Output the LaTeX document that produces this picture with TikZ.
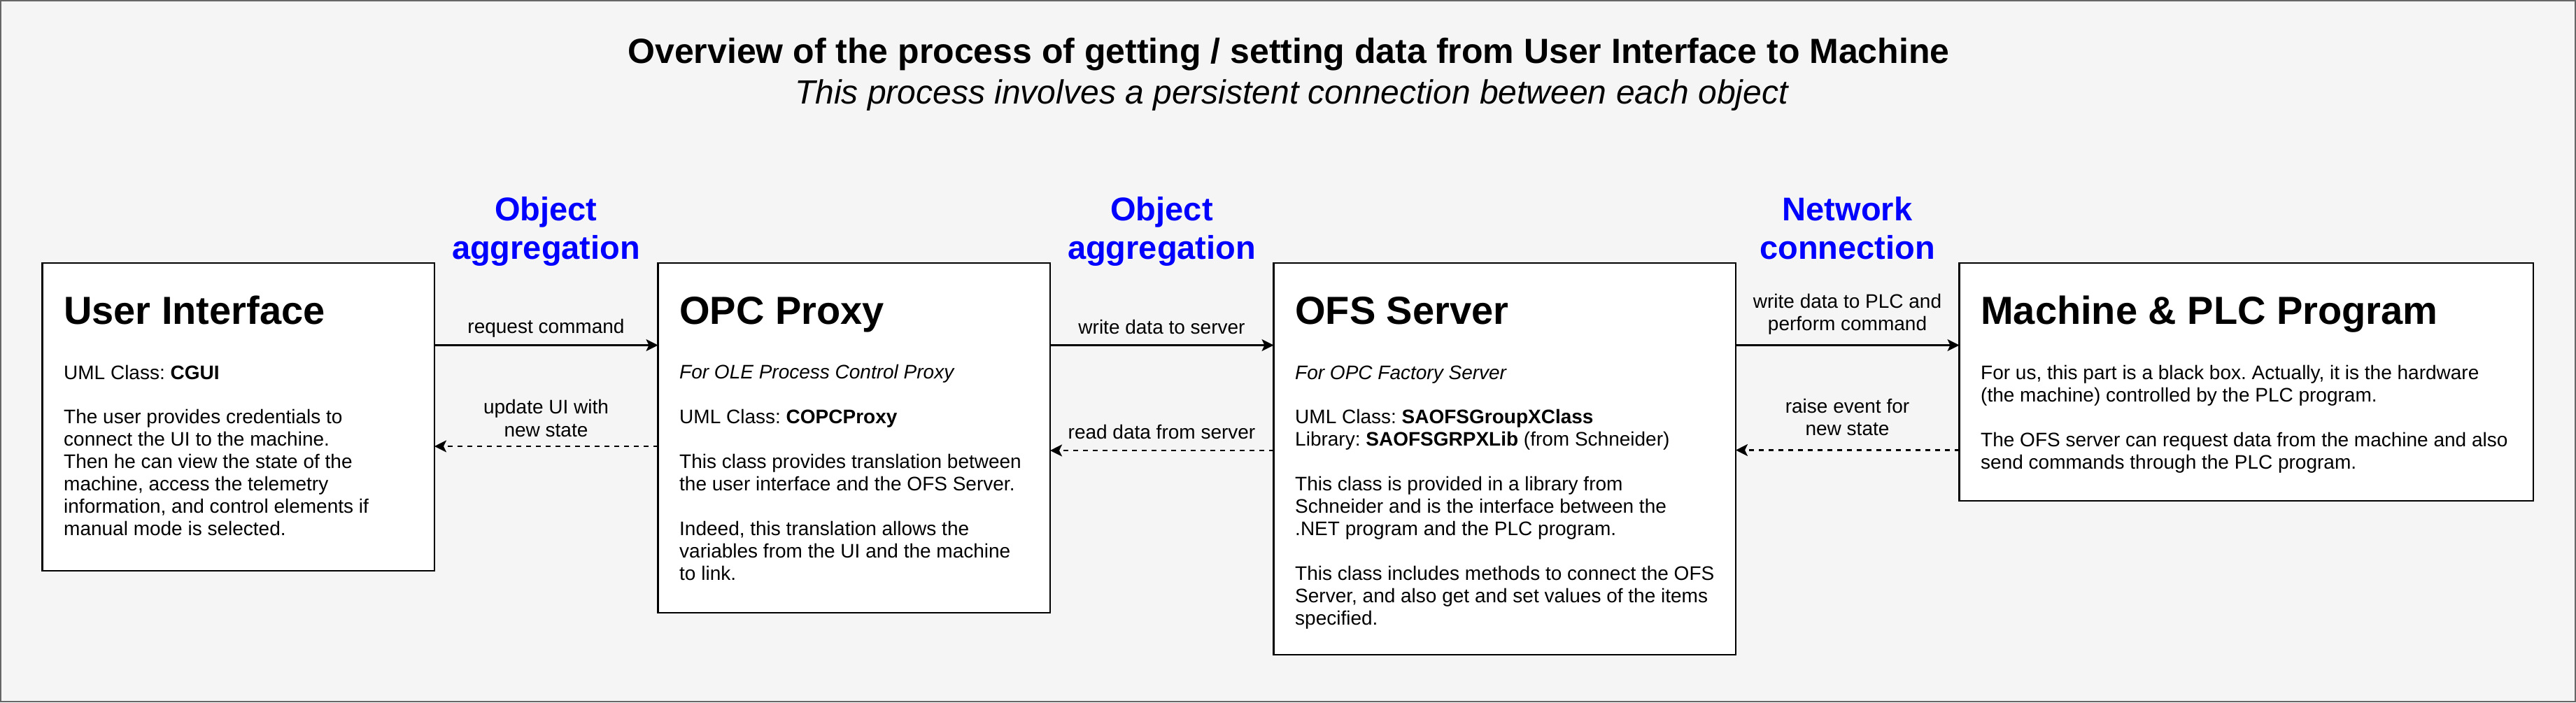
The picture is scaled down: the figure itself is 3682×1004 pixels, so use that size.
\documentclass[tikz,border=0pt]{standalone}
\usepackage{fontspec}
\setmainfont{Liberation Sans}
\usetikzlibrary{arrows.meta}
\definecolor{bgc}{HTML}{F5F5F5}
\definecolor{frc}{HTML}{666666}
\definecolor{lblblue}{HTML}{0000FF}
\newcommand\fsz[2]{\fontsize{#1}{#2}\selectfont}
\frenchspacing
\begin{document}
\begin{tikzpicture}[x=1pt,y=-1pt,
  frame/.style={draw=frc, fill=bgc, line width=2.35pt},
  box/.style={draw=black, fill=white, line width=2.35pt, inner sep=0pt, outer sep=0pt, anchor=north west},
  boxtitle/.style={anchor=base west, inner sep=0pt, font=\fsz{56}{67}\bfseries},
  body/.style={anchor=base west, inner sep=0pt, align=left, font=\fsz{28}{32}},
  ibody/.style={body, font=\fsz{28}{32}\itshape},
  elabel/.style={anchor=base, inner sep=0pt, align=center, font=\fsz{28}{32.5}},
  rel/.style={anchor=base, inner sep=0pt, align=center, font=\fsz{47}{55}\bfseries, text=lblblue},
  arr/.style={line width=2.35pt, -{Stealth[length=17pt,width=17pt,inset=4pt]}},
  darr/.style={arr, dash pattern=on 7pt off 7pt},
]
\useasboundingbox (0,0) rectangle (3682,1004);
\path[frame] (1.17,1.17) rectangle (3680.83,1002.83);

% title
\node[anchor=base, inner sep=0pt, font=\fsz{50}{60}\bfseries] (title) at (1842,90.7)
  {Overview of the process of getting / setting data from User Interface to Machine};
\node[anchor=base, inner sep=0pt, font=\fsz{48}{58}\itshape] (subtitle) at (1846,148)
  {This process involves a persistent connection between each object};

% boxes
\node[box, minimum width=560.5pt, minimum height=440.3pt] (ui)   at (60.5,375.7) {};
\node[box, minimum width=560.5pt, minimum height=500.3pt] (opc)  at (940.5,375.7) {};
\node[box, minimum width=660.5pt, minimum height=560.3pt] (ofs)  at (1820.5,375.7) {};
\node[box, minimum width=820.5pt, minimum height=340.3pt] (mach) at (2800.5,375.7) {};

% (multi-line nodes: anchor base = baseline of last line)
% UI text
\node[boxtitle] (uit) at (91,463) {User Interface};
\node[body] (uic) at (91,542) {UML Class: \textbf{CGUI}};
\node[body] (uid) at (91,765) {The user provides credentials to\\connect the UI to the machine.\\Then he can view the state of the\\machine, access the telemetry\\information, and control elements if\\manual mode is selected.};

% OPC text
\node[boxtitle] (opct) at (971,463) {OPC Proxy};
\node[ibody] (opcf) at (971,541) {For OLE Process Control Proxy};
\node[body] (opcc) at (971,605) {UML Class: \textbf{COPCProxy}};
\node[body] (opcd) at (971,701) {This class provides translation between\\the user interface and the OFS Server.};
\node[body] (opce) at (971,829) {Indeed, this translation allows the\\variables from the UI and the machine\\to link.};

% OFS text
\node[boxtitle] (ofst) at (1851,463) {OFS Server};
\node[ibody] (ofsf) at (1851,542) {For OPC Factory Server};
\node[body] (ofsc) at (1851,637) {UML Class: \textbf{SAOFSGroupXClass}\\Library: \textbf{SAOFSGRPXLib} (from Schneider)};
\node[body] (ofsd) at (1851,765) {This class is provided in a library from\\Schneider and is the interface between the\\.NET program and the PLC program.};
\node[body] (ofse) at (1851,893) {This class includes methods to connect the OFS\\Server, and also get and set values of the items\\specified.};

% Machine text
\node[boxtitle] (macht) at (2831,463) {Machine \& PLC Program};
\node[body] (machd) at (2831,574) {For us, this part is a black box. Actually, it is the hardware\\(the machine) controlled by the PLC program.};
\node[body] (mache) at (2831,670) {The OFS server can request data from the machine and also\\send commands through the PLC program.};

% relation labels
\node[rel] (r1) at (780.5,370) {Object\\aggregation};
\node[rel] (r2) at (1660.5,370) {Object\\aggregation};
\node[rel] (r3) at (2640.5,370) {Network\\connection};

% connector levels
\coordinate (yA) at (0,493.5);
\coordinate (yB1) at (0,638);
\coordinate (yB2) at (0,644);
\coordinate (yB3) at (0,643.5);

\draw[arr]  (ui.east |- yA)  -- (opc.west |- yA);
\draw[darr] (opc.west |- yB1) -- (ui.east |- yB1);
\draw[arr]  (opc.east |- yA) -- (ofs.west |- yA);
\draw[darr] (ofs.west |- yB2) -- (opc.east |- yB2);
\draw[arr]  (ofs.east |- yA) -- (mach.west |- yA);
\draw[darr] (mach.west |- yB3) -- (ofs.east |- yB3);

% connector labels
\node[elabel] (l1) at (780.5,476.7) {request command};
\node[elabel] (l2) at (780.5,624) {update UI with\\new state};
\node[elabel] (l3) at (1660.5,477) {write data to server};
\node[elabel] (l4) at (1660.5,627) {read data from server};
\node[elabel] (l5) at (2640.5,472.5) {write data to PLC and\\perform command};
\node[elabel] (l6) at (2640.5,622.5) {raise event for\\new state};
\end{tikzpicture}
\end{document}
